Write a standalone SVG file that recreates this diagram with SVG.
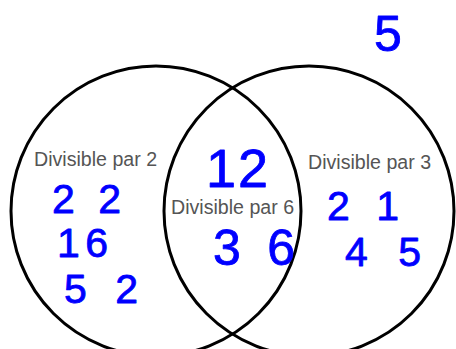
<svg xmlns="http://www.w3.org/2000/svg" width="456" height="349" viewBox="0 0 456 349">
<style>
.set{fill:none;stroke:#000;stroke-width:3}
.lbl{font-family:"Liberation Sans",Arial,sans-serif;font-size:19.6px;fill:#555}
.hw{font-family:"Liberation Sans",Arial,sans-serif;fill:#0000ff;stroke:#0000ff;stroke-width:0.8;stroke-linejoin:round}
</style>
<rect width="456" height="349" fill="#fff"/>
<g id="set-2">
<circle class="set" cx="156" cy="211" r="145"/>
<text class="lbl" x="34" y="166">Divisible par 2</text>
</g>
<g id="set-3">
<circle class="set" cx="309" cy="211" r="145"/>
<text class="lbl" x="308" y="169">Divisible par 3</text>
</g>
<g id="set-6">
<text class="lbl" x="171" y="214">Divisible par 6</text>
</g>
<g id="numbers">
<text class="hw" x="374" y="51" font-size="50">5</text>
<text class="hw" x="206" y="187" font-size="54" textLength="62" lengthAdjust="spacing">12</text>
<text class="hw" x="52" y="213" font-size="41" textLength="69" lengthAdjust="spacing">22</text>
<text class="hw" x="57" y="257" font-size="41" textLength="51" lengthAdjust="spacing">16</text>
<text class="hw" x="64" y="303" font-size="41" textLength="74" lengthAdjust="spacing">52</text>
<text class="hw" x="213" y="265" font-size="50" textLength="82" lengthAdjust="spacing">36</text>
<text class="hw" x="327" y="219.5" font-size="41" textLength="72" lengthAdjust="spacing">21</text>
<text class="hw" x="345" y="265.8" font-size="41" textLength="76" lengthAdjust="spacing">45</text>
</g>
</svg>
